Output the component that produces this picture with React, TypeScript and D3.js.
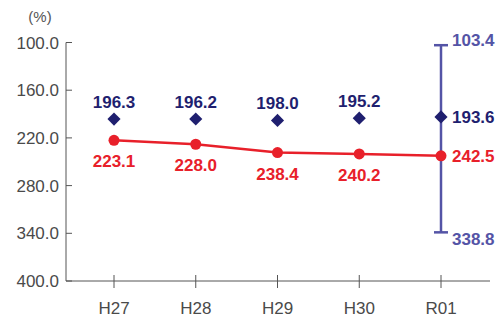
import { useRef, useEffect } from "react";
import * as d3 from "d3";

const years: string[] = ["H27", "H28", "H29", "H30", "R01"];
const navyValues: number[] = [196.3, 196.2, 198.0, 195.2, 193.6];
const redValues: number[] = [223.1, 228.0, 238.4, 240.2, 242.5];
const rangeValues: number[] = [103.4, 338.8];
const yTicks: number[] = [100, 160, 220, 280, 340, 400];

const NAVY = "#1f1f6f";
const RED = "#e8202a";
const SLATE = "#5454a6";
const AXIS = "#555";

const Chart: React.FC = () => {
    const svgRef = useRef<SVGSVGElement | null>(null);

    useEffect(() => {
        if (!svgRef.current) return;
        const width = 499;
        const height = 318;
        const font = "'Liberation Sans', Arial, sans-serif";

        const x = d3.scalePoint<string>().domain(years).range([114, 441]);
        const y = d3.scaleLinear().domain([100, 400]).range([42.5, 281]);

        const svg = d3.select(svgRef.current);
        svg.selectAll("*").remove();
        svg.attr("width", width)
            .attr("height", height)
            .attr("viewBox", `0 0 ${width} ${height}`)
            .style("position", "absolute")
            .style("left", "0")
            .style("top", "0")
            .style("font-family", font);

        // unit
        svg.append("text")
            .attr("x", 40)
            .attr("y", 22)
            .attr("text-anchor", "middle")
            .attr("fill", "#555")
            .attr("font-size", 15)
            .text("(%)");

        // y axis
        const yAxis = svg.append("g");
        yAxis.append("line")
            .attr("x1", 66).attr("x2", 66)
            .attr("y1", y(100)).attr("y2", y(400))
            .attr("stroke", AXIS).attr("stroke-width", 1);
        yAxis.selectAll("line.tick")
            .data(yTicks)
            .join("line")
            .attr("class", "tick")
            .attr("x1", 66).attr("x2", 72)
            .attr("y1", (d) => y(d)).attr("y2", (d) => y(d))
            .attr("stroke", AXIS);
        yAxis.selectAll("text")
            .data(yTicks)
            .join("text")
            .attr("x", 59)
            .attr("y", (d) => y(d) + 6)
            .attr("text-anchor", "end")
            .attr("font-size", 17)
            .attr("fill", "#4a4a4a")
            .text((d) => d3.format(".1f")(d));

        // x axis
        const xAxis = svg.append("g");
        xAxis.append("line")
            .attr("x1", 66).attr("x2", 490)
            .attr("y1", y(400)).attr("y2", y(400))
            .attr("stroke", AXIS);
        xAxis.selectAll("line.tick")
            .data(years)
            .join("line")
            .attr("class", "tick")
            .attr("x1", (d) => x(d)!).attr("x2", (d) => x(d)!)
            .attr("y1", y(400) - 6).attr("y2", y(400) + 7)
            .attr("stroke", AXIS);
        xAxis.selectAll("text")
            .data(years)
            .join("text")
            .attr("x", (d) => x(d)!)
            .attr("y", 314)
            .attr("text-anchor", "middle")
            .attr("font-size", 17)
            .attr("fill", "#4a4a4a")
            .text((d) => d);

        // range bar at R01
        const last = years[years.length - 1];
        const rx = x(last)!;
        const range = svg.append("g").attr("stroke", SLATE).attr("stroke-width", 2.5);
        range.append("line")
            .attr("x1", rx).attr("x2", rx)
            .attr("y1", y(rangeValues[0])).attr("y2", y(rangeValues[1]));
        range.selectAll("line.cap")
            .data(rangeValues)
            .join("line")
            .attr("class", "cap")
            .attr("x1", rx - 7).attr("x2", rx + 7)
            .attr("y1", (d) => y(d)).attr("y2", (d) => y(d));
        svg.append("text")
            .attr("x", rx + 11)
            .attr("y", y(rangeValues[0]) + 1)
            .attr("fill", SLATE)
            .attr("font-size", 17)
            .attr("font-weight", "bold")
            .text(rangeValues[0].toFixed(1));
        svg.append("text")
            .attr("x", rx + 11)
            .attr("y", y(rangeValues[1]) + 13)
            .attr("fill", SLATE)
            .attr("font-size", 17)
            .attr("font-weight", "bold")
            .text(rangeValues[1].toFixed(1));

        // red line
        const line = d3.line<number>()
            .x((_d, i) => x(years[i])!)
            .y((d) => y(d));
        svg.append("path")
            .datum(redValues)
            .attr("d", line)
            .attr("fill", "none")
            .attr("stroke", RED)
            .attr("stroke-width", 2.5);
        svg.append("g")
            .selectAll("circle")
            .data(redValues)
            .join("circle")
            .attr("cx", (_d, i) => x(years[i])!)
            .attr("cy", (d) => y(d))
            .attr("r", 5.5)
            .attr("fill", RED);
        svg.append("g")
            .selectAll("text")
            .data(redValues)
            .join("text")
            .attr("x", (_d, i) => (i === years.length - 1 ? x(years[i])! + 11 : x(years[i])!))
            .attr("y", (d, i) => (i === years.length - 1 ? y(d) + 6 : y(d) + 27))
            .attr("text-anchor", (_d, i) => (i === years.length - 1 ? "start" : "middle"))
            .attr("fill", RED)
            .attr("font-size", 17)
            .attr("font-weight", "bold")
            .text((d) => d.toFixed(1));

        // navy diamonds
        const diamond = d3.symbol().type(d3.symbolDiamond2).size(110);
        svg.append("g")
            .selectAll("path")
            .data(navyValues)
            .join("path")
            .attr("transform", (d, i) => `translate(${x(years[i])},${y(d)})`)
            .attr("d", diamond)
            .attr("fill", NAVY);
        svg.append("g")
            .selectAll("text")
            .data(navyValues)
            .join("text")
            .attr("x", (_d, i) => (i === years.length - 1 ? x(years[i])! + 11 : x(years[i])!))
            .attr("y", (d, i) => (i === years.length - 1 ? y(d) + 6 : y(d) - 11))
            .attr("text-anchor", (_d, i) => (i === years.length - 1 ? "start" : "middle"))
            .attr("fill", NAVY)
            .attr("font-size", 17)
            .attr("font-weight", "bold")
            .text((d) => d.toFixed(1));
    }, []);

    return <svg ref={svgRef} />;
};

export default function App() {
    return <Chart />;
}
